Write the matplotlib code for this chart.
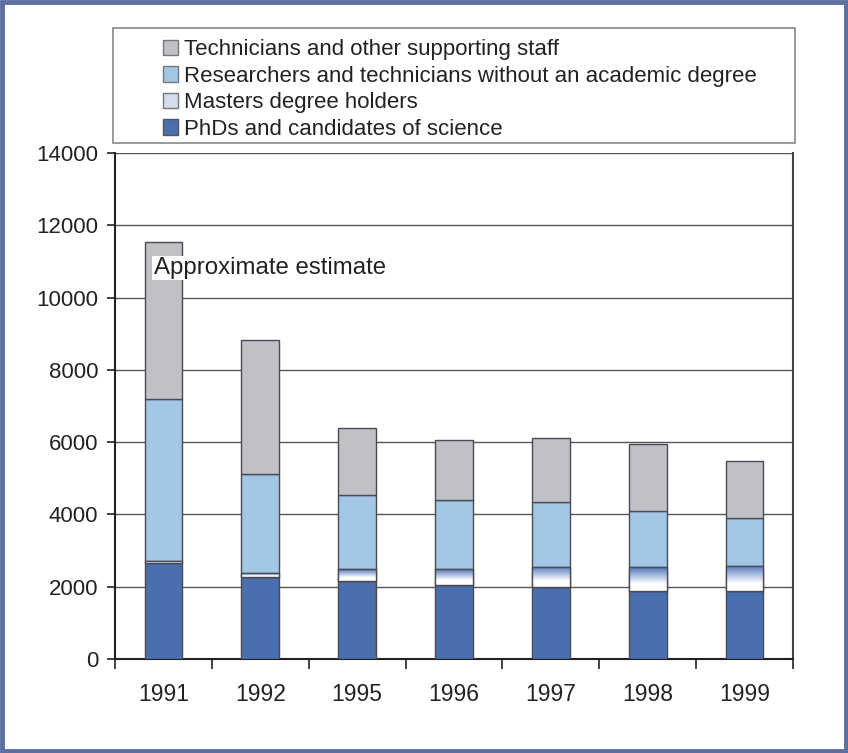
import numpy as np
import matplotlib
matplotlib.use("Agg")
import matplotlib.pyplot as plt
from matplotlib.patches import Patch, Rectangle
from matplotlib.colors import LinearSegmentedColormap

plt.rcParams['font.family'] = ['Liberation Sans', 'DejaVu Sans']

years = ["1991", "1992", "1995", "1996", "1997", "1998", "1999"]
phds = [2650, 2280, 2170, 2050, 1980, 1880, 1880]
masters = [70, 100, 320, 440, 560, 660, 700]
researchers = [4480, 2750, 2060, 1920, 1810, 1550, 1330]
technicians = [4330, 3690, 1850, 1660, 1770, 1860, 1560]
series_names = ["Technicians and other supporting staff",
                "Researchers and technicians without an academic degree",
                "Masters degree holders",
                "PhDs and candidates of science"]
note = "Approximate estimate"

c_phd = "#4a6fae"
c_res = "#a2c7e4"
c_tech = "#c0c0c7"
c_edge = "#4a4a55"

fig = plt.figure(figsize=(8.48, 7.53), dpi=100)
ax = fig.add_axes([0.1356, 0.1248, 0.7995, 0.672])

x = np.arange(len(years))
w = 0.39
phd = np.array(phds)
mas = np.array(masters)
res = np.array(researchers)
tec = np.array(technicians)

ax.bar(x, phd, w, color=c_phd, edgecolor=c_edge, lw=1, zorder=3)
mbars = ax.bar(x, mas, w, bottom=phd, color="white", edgecolor=c_edge, lw=1, zorder=3)
ax.bar(x, res, w, bottom=phd + mas, color=c_res, edgecolor=c_edge, lw=1, zorder=3)
ax.bar(x, tec, w, bottom=phd + mas + res, color=c_tech, edgecolor=c_edge, lw=1, zorder=3)

# masters segments fade from blue at the top to white
grad_cmap = LinearSegmentedColormap.from_list(
    "mgrad", [(0, "white"), (0.3, "white"), (0.75, "#8fa8d6"), (1, "#4f72b3")])
grad = np.linspace(0, 1, 256).reshape(-1, 1)
for b in mbars:
    x0, y0 = b.get_x(), b.get_y()
    im = ax.imshow(grad, cmap=grad_cmap, origin="lower", aspect="auto",
                   extent=(x0, x0 + b.get_width(), y0, y0 + b.get_height()),
                   zorder=3.5)
    im.set_clip_path(b)
    ax.add_patch(Rectangle((x0, y0), b.get_width(), b.get_height(), fill=False,
                           edgecolor=c_edge, lw=1, zorder=3.6))

ax.set_xlim(-0.5, len(years) - 0.5)
ax.set_ylim(0, 14000)
ax.set_yticks(np.arange(0, 14001, 2000))
ax.yaxis.grid(True, color="#555555", lw=1)
ax.set_axisbelow(True)

ax.set_xticks(x)
ax.set_xticklabels(years)
ax.set_xticks(np.arange(-0.5, len(years)), minor=True)
ax.tick_params(axis="x", which="major", length=0, labelsize=16.5, pad=17, colors="#222222")
ax.tick_params(axis="x", which="minor", length=7, width=1.2, direction="out", color="#222222")
ax.tick_params(axis="y", length=6, width=1.2, direction="out", labelsize=16, pad=6,
               colors="#222222")
for s in ["left", "bottom"]:
    ax.spines[s].set_linewidth(1.5)
    ax.spines[s].set_color("#222222")
ax.spines["top"].set_visible(False)
ax.spines["right"].set_color("#444444")
ax.spines["right"].set_linewidth(1.5)

ax.text(-0.1, 10820, note, fontsize=17.3, ha="left", va="center", color="#222222",
        bbox=dict(facecolor="white", edgecolor="none", pad=1), zorder=5)

# legend drawn inside its own box above the plot
handles = [Patch(facecolor=c_tech, edgecolor="#777777"),
           Patch(facecolor=c_res, edgecolor="#777777"),
           Patch(facecolor="#d4ddef", edgecolor="#777777"),
           Patch(facecolor=c_phd, edgecolor="#555555")]
fig.legend(handles, series_names, loc="upper left", bbox_to_anchor=(0.192, 0.948),
           frameon=False, fontsize=16, handlelength=0.68, handleheight=0.68,
           handletextpad=0.27, labelspacing=0.25, borderpad=0, borderaxespad=0,
           labelcolor="#222222")
fig.patches.append(Rectangle((0.1333, 0.8101), 0.8042, 0.1527, transform=fig.transFigure,
                             fill=False, edgecolor="#888888", lw=1.2))

# outer frame
fig.patches.append(Rectangle((0.002, 0.002), 0.996, 0.996, transform=fig.transFigure,
                             fill=False, edgecolor="#5d6fa0", lw=3.5))

fig.savefig("out.png", dpi=100)
